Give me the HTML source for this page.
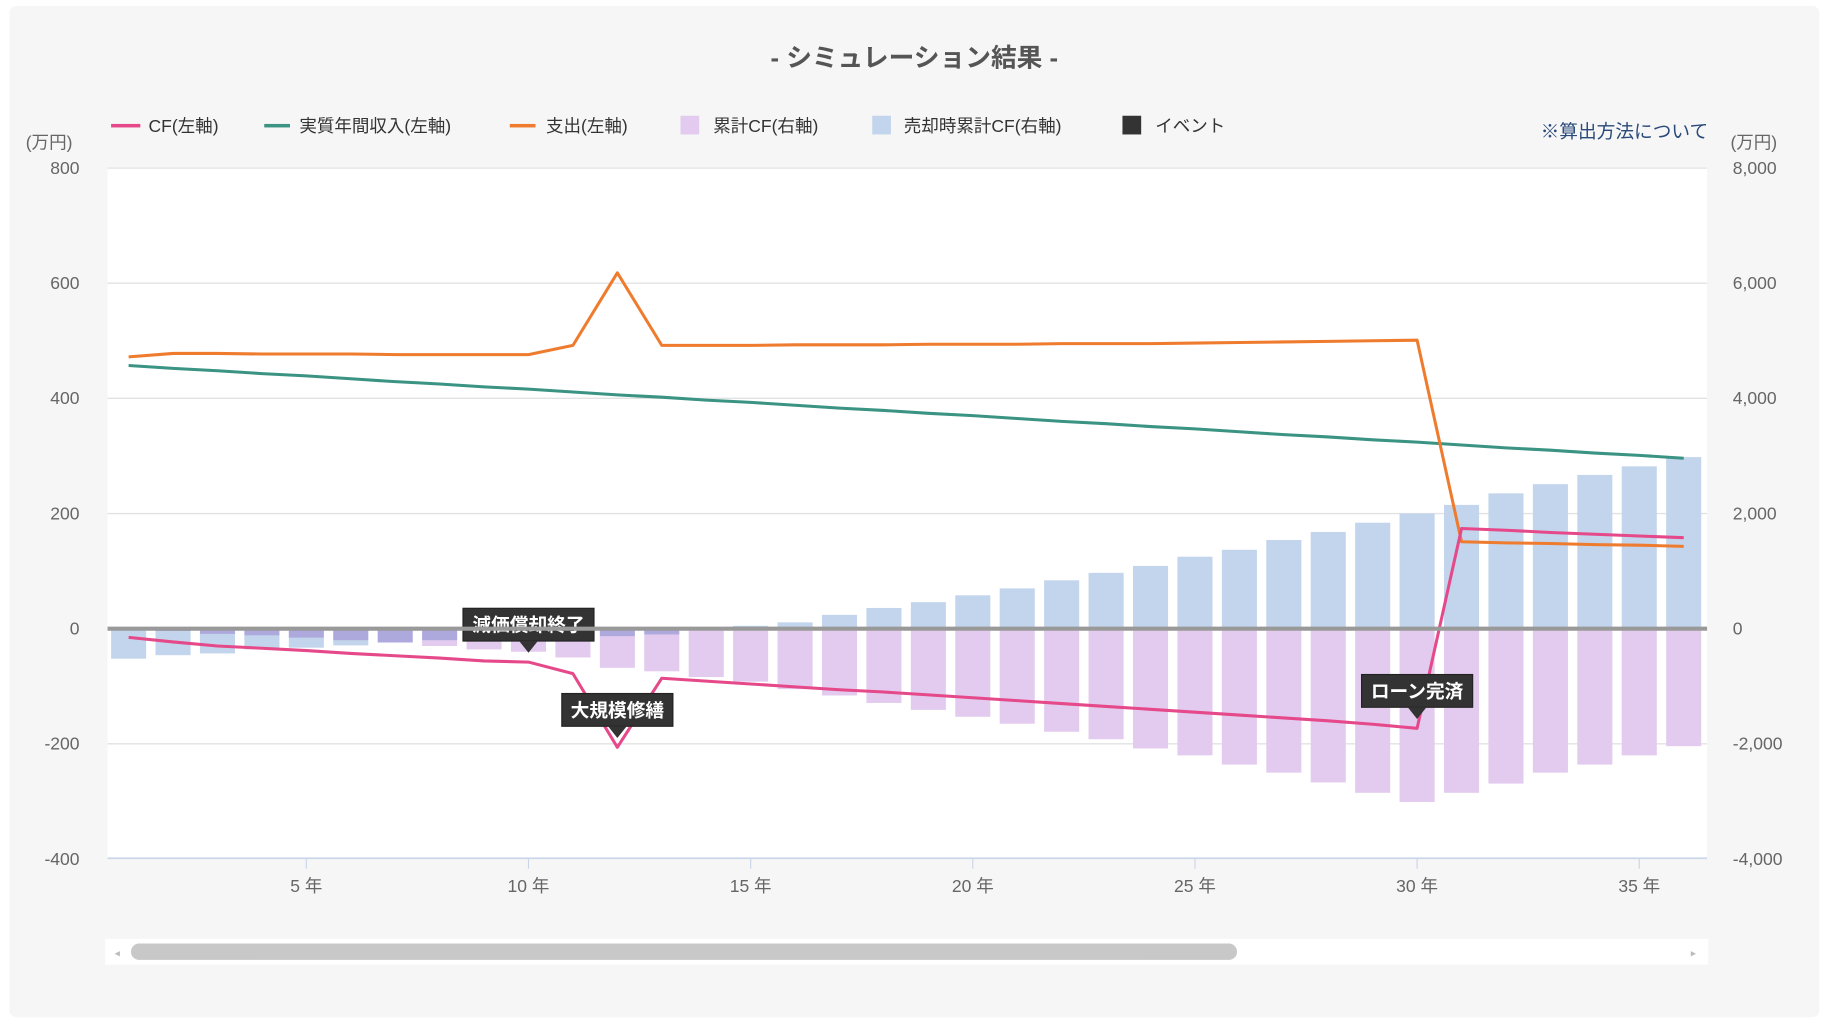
<!DOCTYPE html>
<html><head><meta charset="utf-8"><style>
html,body{margin:0;padding:0;background:#fff;}
svg{display:block;font-family:"Liberation Sans","Noto Sans CJK JP",sans-serif;}
</style></head><body>
<svg id="chart" width="1824" height="1024" viewBox="0 0 1560 875.8" preserveAspectRatio="none">
<rect x="8" y="5" width="1548" height="865" rx="6" fill="#f6f6f6"/>
<text x="782" y="57" text-anchor="middle" font-size="22" font-weight="bold" fill="#555">- シミュレーション結果 -</text>
<g font-size="15" fill="#333">
<g><rect x="95" y="106" width="25" height="3" fill="#e5498a"/><text x="127" y="113">CF(左軸)</text></g>
<g><rect x="226" y="106" width="22" height="3" fill="#3a9383"/><text x="256" y="113">実質年間収入(左軸)</text></g>
<g><rect x="436" y="106" width="22" height="3" fill="#ef7b2e"/><text x="467" y="113">支出(左軸)</text></g>
<g><rect x="582" y="99" width="16" height="16" fill="#e3cbef"/><text x="610" y="113">累計CF(右軸)</text></g>
<g><rect x="746" y="99" width="16" height="16" fill="#c3d5ec"/><text x="773" y="113">売却時累計CF(右軸)</text></g>
<g><rect x="960" y="99" width="16" height="16" fill="#333"/><text x="988" y="113">イベント</text></g>
</g>
<text x="1461" y="118" text-anchor="end" font-size="16" fill="#2a4a7a">※算出方法について</text>
<text x="22" y="127" font-size="15" fill="#666">(万円)</text>
<text x="1480" y="127" font-size="15" fill="#666">(万円)</text>
<rect x="92" y="143" width="1368" height="591" fill="#fff"/>
<g id="grid"></g><g id="bars" style="isolation:isolate"></g><g id="lines"></g><g id="notes"></g><g id="axes"></g>
<g>
<rect x="90" y="803" width="1371" height="22" fill="#fff"/>
<rect x="112" y="807" width="946" height="14" rx="7" fill="#c8c8c8"/>
<text x="98" y="818" font-size="9" fill="#bbb">◂</text><text x="1446" y="818" font-size="9" fill="#bbb">▸</text>
</g>
</svg>
<script>
const years=[1,2,3,4,5,6,7,8,9,10,11,12,13,14,15,16,17,18,19,20,21,22,23,24,25,26,27,28,29,30,31,32,33,34,35,36];
const leftTicks=[800,600,400,200,0,-200,-400];
const rightTicks=['8,000','6,000','4,000','2,000','0','-2,000','-4,000'];
const xTickYears=[5,10,15,20,25,30,35];
const cf=[-15,-23,-30,-34,-38,-43,-47,-51,-56,-58,-78,-206,-86,-91,-96,-101,-106,-110,-115,-120,-125,-130,-135,-140,-145,-150,-155,-160,-166,-173,174,171,167,164,161,158];
const income=[457,452,448,443,439,434,429,425,420,416,411,406,402,397,393,388,383,379,374,370,365,360,356,351,347,342,337,333,328,324,319,314,310,305,301,296];
const expense=[472,478,478,477,477,477,476,476,476,476,492,618,492,492,492,493,493,493,494,494,494,495,495,495,496,497,498,499,500,501,151,149,148,146,145,143];
const cumCF=[-30,-40,-90,-115,-155,-200,-240,-300,-360,-400,-500,-680,-740,-840,-920,-1050,-1160,-1290,-1410,-1530,-1650,-1790,-1920,-2080,-2200,-2360,-2500,-2670,-2850,-3010,-2850,-2690,-2500,-2360,-2200,-2040];
const saleCF=[-520,-460,-430,-360,-330,-290,-240,-200,-150,-100,-50,-130,-100,-20,50,110,240,360,460,580,700,840,970,1090,1250,1370,1540,1680,1840,2000,2150,2350,2510,2670,2820,2980];
const events=[{year:10,label:'減価償却終了'},{year:12,label:'大規模修繕'},{year:30,label:'ローン完済'}];

const NS='http://www.w3.org/2000/svg';
const Y0=537.7,PX=98.5/200;
const yL=v=>Y0-v*PX, yR=v=>Y0-v*PX/10, xS=y=>110+(y-1)*38;
function mk(t,a,p){const e=document.createElementNS(NS,t);for(const k in a)e.setAttribute(k,a[k]);p.appendChild(e);return e;}
const grid=document.getElementById('grid'),axes=document.getElementById('axes'),bars=document.getElementById('bars'),lines=document.getElementById('lines'),notes=document.getElementById('notes');
leftTicks.forEach((v,i)=>{
 if(v!==0&&v!==-400){const g=mk('line',{x1:92,x2:1460,y1:yL(v),y2:yL(v),stroke:'#e2e2e2','stroke-width':1.2},grid);
 
 }
 const t=mk('text',{x:68,y:yL(v)+5,'text-anchor':'end','font-size':15,fill:'#666'},axes);t.textContent=v;
 
 
 const r=mk('text',{x:1482,y:yL(v)+5,'font-size':15,fill:'#666'},axes);r.textContent=rightTicks[i];
 
 
});
const bw=30;
years.forEach((yr,i)=>{
 [[cumCF[i],'#e3cbef','bar-cumulative-cf'],[saleCF[i],'#c3d5ec','bar-sale-cumulative-cf']].forEach(([v,c,n])=>{
  const y1=yR(0),y2=yR(v);const x=Math.max(92,xS(yr)-bw/2);const w=Math.min(1457,xS(yr)+bw/2)-x;
  const r=mk('rect',{x:x,y:Math.min(y1,y2),width:w,height:Math.abs(y2-y1),fill:c,style:'mix-blend-mode:multiply'},bars);
  
  
 });
});
const zl=mk('line',{x1:92,x2:1460,y1:Y0,y2:Y0,stroke:'#999','stroke-width':3.5},axes);


const xa=mk('line',{x1:92,x2:1460,y1:734,y2:734,stroke:'#ccd6eb','stroke-width':1.5},axes);


xTickYears.forEach(yr=>{
 mk('line',{x1:xS(yr),x2:xS(yr),y1:734,y2:743,stroke:'#ccd6eb'},axes);
 const t=mk('text',{x:xS(yr),y:763,'text-anchor':'middle','font-size':15,fill:'#666'},axes);t.textContent=yr+' 年';
 
 
});
[[income,'#3a9383','line-income'],[expense,'#ef7b2e','line-expense'],[cf,'#e5498a','line-cf']].forEach(([d,c,n])=>{
 const p=mk('polyline',{points:d.map((v,i)=>xS(years[i])+','+yL(v)).join(' '),fill:'none',stroke:c,'stroke-width':2.6,'stroke-linejoin':'round'},lines);
 
 
});
events.forEach(ev=>{
 const px=xS(ev.year),py=yL(cf[ev.year-1]);
 const g=mk('g',{},notes);
 
 
 const w=ev.label.length*17+10,tip=py-8,bt=tip-10-28;
 mk('rect',{x:px-w/2,y:bt,width:w,height:28,fill:'#333',stroke:'#222'},g);
 mk('path',{d:`M${px-8},${bt+28} L${px},${tip} L${px+8},${bt+28} Z`,fill:'#333'},g);
 const t=mk('text',{x:px,y:bt+20,'text-anchor':'middle','font-size':16,'font-weight':'bold',fill:'#fff'},g);t.textContent=ev.label;
});
</script>
</body></html>
